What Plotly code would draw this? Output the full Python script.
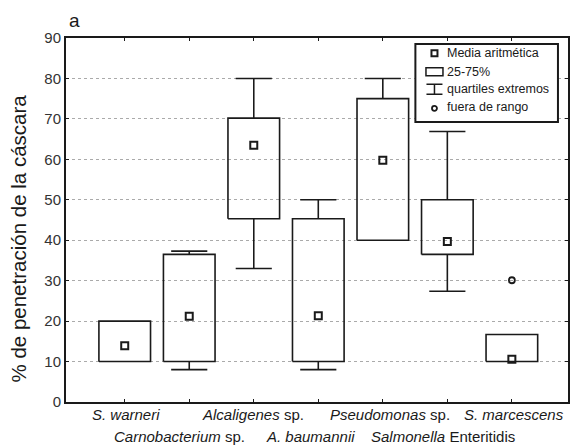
import plotly.graph_objects as go

# ---------------- data ----------------
categories = ["S. warneri", "Carnobacterium sp.", "Alcaligenes sp.", "A. baumannii",
              "Pseudomonas sp.", "Salmonella Enteritidis", "S. marcescens"]
cat_labels = ["<i>S. warneri</i>", "<i>Carnobacterium</i> sp.", "<i>Alcaligenes</i> sp.",
              "<i>A. baumannii</i>", "<i>Pseudomonas</i> sp.", "<i>Salmonella</i> Enteritidis",
              "<i>S. marcescens</i>"]
q25 = [10, 10, 45.3, 10, 40, 36.5, 10]
q75 = [20, 36.5, 70.2, 45.3, 75, 50, 16.7]
whisk_lo = [10, 8, 33, 8, 40, 27.4, 10]
whisk_hi = [20, 37.3, 80, 50, 80, 66.9, 16.7]
means = [13.9, 21.2, 63.5, 21.3, 59.8, 39.7, 10.6]
outlier_idx = [6]
outlier_val = [30.1]
y_ticks = [0, 10, 20, 30, 40, 50, 60, 70, 80, 90]
legend_items = ["Media aritmética", "25-75%", "quartiles extremos", "fuera de rango"]

# ---------------- figure ----------------
INK = "#1a1a1a"
BW = 0.40   # half box width (category units)
CW = 0.28   # half cap width

fig = go.Figure()

# boxes
bx, by = [], []
for i in range(len(categories)):
    bx += [i - BW, i + BW, i + BW, i - BW, i - BW, None]
    by += [q25[i], q25[i], q75[i], q75[i], q25[i], None]
fig.add_trace(go.Scatter(x=bx, y=by, mode="lines", line=dict(color=INK, width=1.6),
                         hoverinfo="skip", showlegend=False))

# whiskers + caps
wx, wy = [], []
for i in range(len(categories)):
    if whisk_hi[i] > q75[i]:
        wx += [i, i, None, i - CW, i + CW, None]
        wy += [q75[i], whisk_hi[i], None, whisk_hi[i], whisk_hi[i], None]
    if whisk_lo[i] < q25[i]:
        wx += [i, i, None, i - CW, i + CW, None]
        wy += [q25[i], whisk_lo[i], None, whisk_lo[i], whisk_lo[i], None]
fig.add_trace(go.Scatter(x=wx, y=wy, mode="lines", line=dict(color=INK, width=1.6),
                         hoverinfo="skip", showlegend=False))

# means
fig.add_trace(go.Scatter(x=list(range(len(categories))), y=means, mode="markers",
                         marker=dict(symbol="square-open", size=7, color=INK,
                                     line=dict(width=2, color=INK)),
                         showlegend=False))
# outliers
fig.add_trace(go.Scatter(x=outlier_idx, y=outlier_val, mode="markers",
                         marker=dict(symbol="circle-open", size=6, color=INK,
                                     line=dict(width=1.8, color=INK)),
                         showlegend=False))

FONT = "Liberation Sans, Arial, sans-serif"

# x category labels in two staggered rows
label_shift = [1, -10, -1, -8, 7, -4, 2]
for i, lab in enumerate(cat_labels):
    second = i % 2 == 1
    fig.add_annotation(x=i, y=0, xref="x", yref="paper", text=lab, showarrow=False,
                       xanchor="center", yanchor="top",
                       yshift=-24 if second else -2,
                       xshift=label_shift[i],
                       font=dict(family=FONT, size=15, color=INK))

# y title
fig.add_annotation(x=-0.095, y=0.45, xref="paper", yref="paper",
                   text="% de penetración de la cáscara", textangle=-90,
                   showarrow=False, xanchor="center", yanchor="middle",
                   font=dict(family=FONT, size=20.5, color=INK))
# panel letter
fig.add_annotation(x=0.016, y=1.0, xref="paper", yref="paper", text="a",
                   showarrow=False, xanchor="center", yanchor="bottom", yshift=5,
                   font=dict(family=FONT, size=19, color=INK))

# custom legend
fig.add_shape(type="rect", xref="paper", yref="paper", x0=0.696, x1=0.980,
              y0=0.769, y1=0.9835, line=dict(color=INK, width=2), fillcolor="white")
row_y = [0.958, 0.9074, 0.859, 0.8096]
sym_x = 0.734
for yy, txt in zip(row_y, legend_items):
    fig.add_annotation(x=0.755, y=yy, xref="paper", yref="paper", text=txt,
                       showarrow=False, xanchor="left", yanchor="middle",
                       font=dict(family=FONT, size=12.5, color=INK))
px = dict(xref="paper", yref="paper", xsizemode="pixel", ysizemode="pixel",
          xanchor=sym_x)
fig.add_shape(type="rect", x0=-3, x1=3, y0=-3, y1=3, yanchor=row_y[0],
              line=dict(color=INK, width=2), **px)
fig.add_shape(type="rect", x0=-8.5, x1=8.5, y0=-4, y1=4, yanchor=row_y[1],
              line=dict(color=INK, width=1.5), **px)
fig.add_shape(type="path", path="M-8,5 L8,5 M0,5 L0,-5 M-8,-5 L8,-5",
              yanchor=row_y[2], line=dict(color=INK, width=1.5), **px)
fig.add_shape(type="circle", x0=-2.5, x1=2.5, y0=-3.5, y1=1.5, yanchor=row_y[3],
              line=dict(color=INK, width=1.8), **px)

fig.update_layout(
    width=572, height=448,
    margin=dict(l=66, r=2, t=38, b=46),
    paper_bgcolor="white", plot_bgcolor="white",
    showlegend=False,
    font=dict(family=FONT, color=INK),
)
fig.update_xaxes(range=[-0.91, 6.87], tickvals=list(range(len(categories))),
                 ticktext=[""] * len(categories), showgrid=False, zeroline=False,
                 showline=True, linecolor=INK, linewidth=2, mirror="ticks",
                 ticks="inside", ticklen=3, tickcolor=INK)
fig.update_yaxes(range=[0, 90], tickvals=y_ticks, showgrid=True,
                 gridcolor="#aaaaaa", griddash="dot", gridwidth=1, zeroline=False,
                 showline=True, linecolor=INK, linewidth=2, mirror="ticks",
                 ticks="inside", ticklen=3, tickcolor=INK,
                 tickfont=dict(family=FONT, size=15, color="#333"))

fig.write_html("out.html", config={"displayModeBar": False},
               post_script="document.body.style.margin='0';document.body.style.overflow='hidden';")
